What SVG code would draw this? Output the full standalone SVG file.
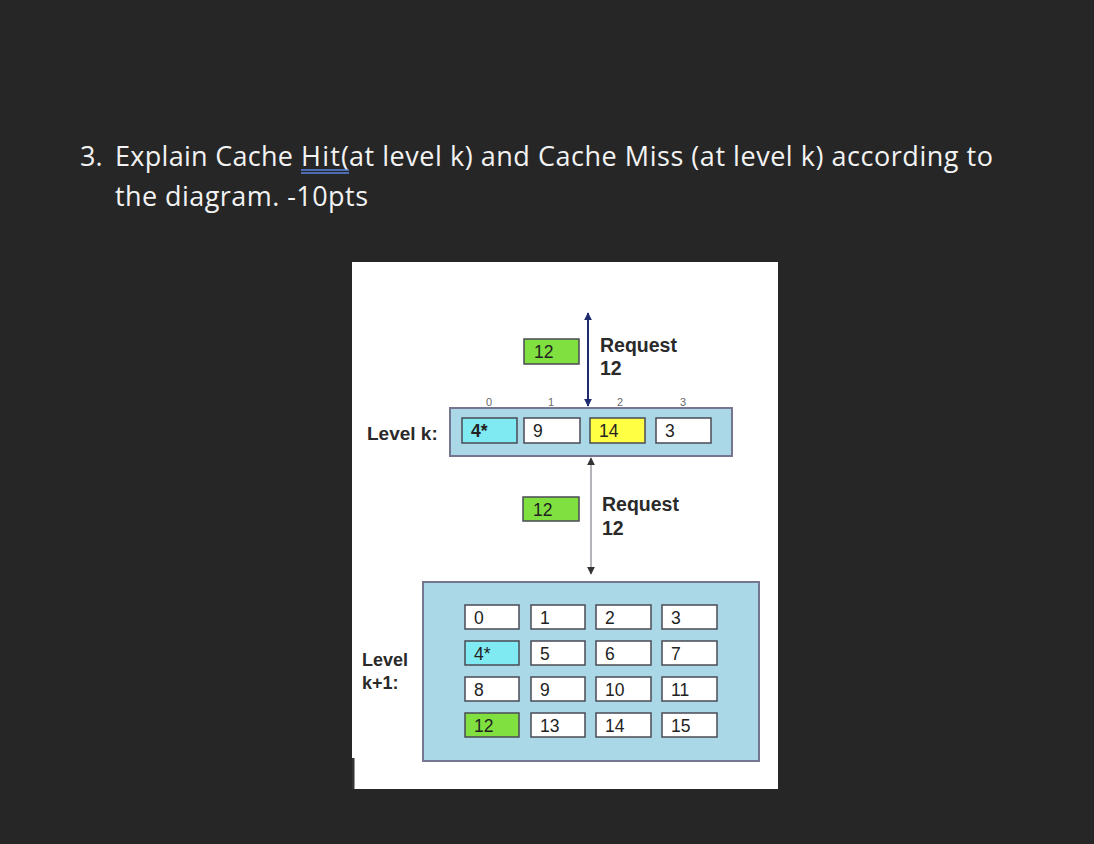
<svg xmlns="http://www.w3.org/2000/svg" width="1094" height="844" viewBox="0 0 1094 844">
<style>
.hdr{font-family:"Open Sans","Noto Sans",sans-serif;font-size:27px;fill:#f2f2f2;font-weight:500}
.lbl{font-family:"Liberation Sans",Arial,sans-serif;font-weight:bold;fill:#2a2a2a}
.cell{stroke:#4a4a55;stroke-width:1.5}
.ct{font-family:"Liberation Sans",Arial,sans-serif;font-size:17.5px;fill:#222}
.idx{font-family:"Liberation Sans",Arial,sans-serif;font-size:11px;fill:#6a6a6a}
.box{fill:#aad8e6;stroke:#767690;stroke-width:2}
</style>
<defs>
<marker id="ahNavy" viewBox="0 0 10 10" refX="9" refY="5" markerWidth="4" markerHeight="4" orient="auto-start-reverse"><path d="M0,0 L10,5 L0,10 z" fill="#1e2c6e"/></marker>
<marker id="ahDark" viewBox="0 0 10 10" refX="9" refY="5" markerWidth="4" markerHeight="4" orient="auto-start-reverse"><path d="M0,0 L10,5 L0,10 z" fill="#333"/></marker>
</defs>
<rect width="1094" height="844" fill="#262626"/>
<g id="question">
<text class="hdr" x="80" y="166">3.</text>
<text class="hdr" x="115" y="166" textLength="178">Explain Cache</text>
<text class="hdr" x="301" y="166" textLength="48">Hit(</text>
<text class="hdr" x="349" y="166" textLength="644">at level k) and Cache Miss (at level k) according to</text>
<text class="hdr" x="115" y="206" textLength="253">the diagram. -10pts</text>
<line x1="301" y1="170" x2="349" y2="170" stroke="#5a86e0" stroke-width="1.5"/>
<line x1="301" y1="173" x2="349" y2="173" stroke="#5a86e0" stroke-width="1.5"/>
</g>
<rect id="frame" x="352" y="262" width="426" height="527" fill="#ffffff"/>
<rect x="352" y="758" width="2.5" height="31" fill="#333"/>
<g id="levelk">
<text class="lbl" x="367" y="440" font-size="19">Level k:</text>
<rect class="box" x="450" y="408" width="282" height="48"/>
<text class="idx" x="486" y="406">0</text>
<text class="idx" x="548" y="406">1</text>
<text class="idx" x="617" y="406">2</text>
<text class="idx" x="680" y="406">3</text>
<rect class="cell" x="462" y="418" width="55" height="25" fill="#80eaf2"/>
<text class="ct" x="471" y="437" font-weight="bold" fill="#333">4*</text>
<rect class="cell" x="524" y="418" width="56" height="25" fill="#fff"/>
<text class="ct" x="533" y="437">9</text>
<rect class="cell" x="590" y="418" width="55" height="25" fill="#ffff44"/>
<text class="ct" x="599" y="437">14</text>
<rect class="cell" x="656" y="418" width="55" height="25" fill="#fff"/>
<text class="ct" x="665" y="437">3</text>
</g>
<g id="block12top">
<rect class="cell" x="524" y="339" width="55" height="25" fill="#80e040"/>
<text class="ct" x="534" y="358">12</text>
</g>
<g id="request1">
<text class="lbl" x="600" y="352" font-size="19.5">Request</text>
<text class="lbl" x="600" y="375" font-size="19.5">12</text>
</g>
<g id="block12mid">
<rect class="cell" x="523" y="497" width="56" height="24" fill="#80e040"/>
<text class="ct" x="533" y="516">12</text>
</g>
<g id="request2">
<text class="lbl" x="602" y="511" font-size="19.5">Request</text>
<text class="lbl" x="602" y="535" font-size="19.5">12</text>
</g>
<g id="levelk1">
<text class="lbl" x="362" y="666" font-size="18">Level</text>
<text class="lbl" x="362" y="689" font-size="18">k+1:</text>
<rect class="box" x="423" y="582" width="336" height="179"/>
<rect class="cell" x="465" y="605" width="54" height="24" fill="#fff"/><text class="ct" x="474" y="624">0</text>
<rect class="cell" x="531" y="605" width="54" height="24" fill="#fff"/><text class="ct" x="540" y="624">1</text>
<rect class="cell" x="596" y="605" width="55" height="24" fill="#fff"/><text class="ct" x="605" y="624">2</text>
<rect class="cell" x="662" y="605" width="55" height="24" fill="#fff"/><text class="ct" x="671" y="624">3</text>
<rect class="cell" x="465" y="641" width="54" height="24" fill="#80eaf2"/><text class="ct" x="474" y="660">4*</text>
<rect class="cell" x="531" y="641" width="54" height="24" fill="#fff"/><text class="ct" x="540" y="660">5</text>
<rect class="cell" x="596" y="641" width="55" height="24" fill="#fff"/><text class="ct" x="605" y="660">6</text>
<rect class="cell" x="662" y="641" width="55" height="24" fill="#fff"/><text class="ct" x="671" y="660">7</text>
<rect class="cell" x="465" y="677" width="54" height="24" fill="#fff"/><text class="ct" x="474" y="696">8</text>
<rect class="cell" x="531" y="677" width="54" height="24" fill="#fff"/><text class="ct" x="540" y="696">9</text>
<rect class="cell" x="596" y="677" width="55" height="24" fill="#fff"/><text class="ct" x="605" y="696">10</text>
<rect class="cell" x="662" y="677" width="55" height="24" fill="#fff"/><text class="ct" x="671" y="696">11</text>
<rect class="cell" x="465" y="713" width="54" height="24" fill="#80e040"/><text class="ct" x="474" y="732">12</text>
<rect class="cell" x="531" y="713" width="54" height="24" fill="#fff"/><text class="ct" x="540" y="732">13</text>
<rect class="cell" x="596" y="713" width="55" height="24" fill="#fff"/><text class="ct" x="605" y="732">14</text>
<rect class="cell" x="662" y="713" width="55" height="24" fill="#fff"/><text class="ct" x="671" y="732">15</text>
</g>
<g id="connectors">
<line x1="588" y1="313" x2="588" y2="406" stroke="#1e2c6e" stroke-width="2" marker-start="url(#ahNavy)" marker-end="url(#ahNavy)"/>
<line x1="591" y1="458" x2="591" y2="574" stroke="#b4b4b8" stroke-width="2" marker-start="url(#ahDark)" marker-end="url(#ahDark)"/>
</g>
</svg>
